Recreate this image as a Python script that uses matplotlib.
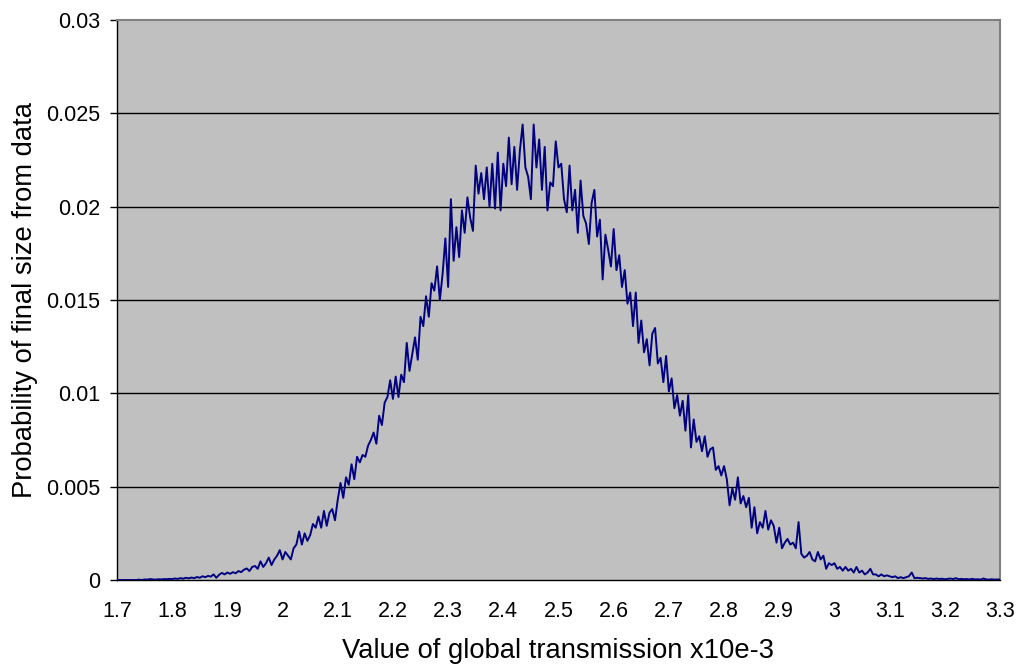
import numpy as np
import matplotlib
matplotlib.use("Agg")
import matplotlib.pyplot as plt

plt.rcParams['font.family'] = ['Liberation Sans', 'DejaVu Sans']

# probability of final size, sampled every 0.005 from 1.7 to 3.3
prob = [
    0, 0, 0, 0, 0, 0, 0, 0, 0.00002, 0,
    0.00003, 0.00002, 0.00005, 0.00003, 0.00002, 0.00004, 0.00003, 0.00005, 0.00004, 0.00006,
    0.00005, 0.00008, 0.00006, 0.0001, 0.00007, 0.00012, 0.00009, 0.00013, 0.0001, 0.00016,
    0.00012, 0.0002, 0.00015, 0.00022, 0.00018, 0.0003, 0.00012, 0.00028, 0.00038, 0.0003,
    0.0004, 0.00033, 0.00042, 0.00036, 0.00048, 0.00042, 0.00055, 0.00062, 0.00048, 0.0007,
    0.00075, 0.0006, 0.001, 0.0007, 0.0009, 0.0012, 0.0008, 0.0011, 0.0013, 0.0016,
    0.0011, 0.0015, 0.0013, 0.0011, 0.0017, 0.0019, 0.0026, 0.0019, 0.0025, 0.0021,
    0.0024, 0.003, 0.0028, 0.0034, 0.0028, 0.0037, 0.0029, 0.0036, 0.0038, 0.0032,
    0.0043, 0.0052, 0.0044, 0.0055, 0.0051, 0.0062, 0.0054, 0.0066, 0.0063, 0.0067,
    0.0066, 0.0072, 0.0075, 0.0079, 0.0073, 0.0088, 0.0083, 0.0095, 0.0098, 0.0107,
    0.0097, 0.0109, 0.0098, 0.011, 0.0106, 0.0127, 0.0112, 0.0121, 0.013, 0.0118,
    0.0141, 0.0136, 0.0152, 0.0141, 0.0159, 0.0155, 0.0168, 0.015, 0.0164, 0.0183,
    0.0157, 0.0204, 0.0171, 0.0189, 0.0173, 0.0198, 0.0186, 0.0205, 0.0194, 0.0187,
    0.0222, 0.0207, 0.0218, 0.0204, 0.0221, 0.02, 0.0223, 0.0199, 0.0229, 0.0198,
    0.0223, 0.0211, 0.0237, 0.0212, 0.0232, 0.0209, 0.023, 0.0244, 0.0221, 0.0216,
    0.0204, 0.0244, 0.0221, 0.0236, 0.0209, 0.0232, 0.0198, 0.0213, 0.0211, 0.0235,
    0.0221, 0.0223, 0.0204, 0.0197, 0.0222, 0.0198, 0.0209, 0.0186, 0.0214, 0.0195,
    0.0191, 0.018, 0.0202, 0.0209, 0.0184, 0.0193, 0.0161, 0.0185, 0.0177, 0.0168,
    0.0188, 0.0166, 0.0174, 0.0157, 0.0166, 0.0148, 0.0154, 0.0136, 0.0154, 0.0127,
    0.0139, 0.0122, 0.0129, 0.0115, 0.0132, 0.0135, 0.0116, 0.0119, 0.0106, 0.012,
    0.0101, 0.0108, 0.0092, 0.0099, 0.0088, 0.0096, 0.008, 0.0099, 0.0071, 0.0086,
    0.0074, 0.0077, 0.0069, 0.0077, 0.0066, 0.007, 0.0071, 0.0059, 0.0061, 0.0056,
    0.0061, 0.0054, 0.004, 0.0049, 0.0043, 0.0055, 0.0041, 0.0045, 0.0039, 0.0044,
    0.0028, 0.0039, 0.0025, 0.0031, 0.0028, 0.0037, 0.0027, 0.0032, 0.0029, 0.002,
    0.0028, 0.0017, 0.002, 0.0022, 0.0019, 0.002, 0.0017, 0.0031, 0.0014, 0.0012,
    0.0013, 0.0015, 0.0011, 0.001, 0.0015, 0.0011, 0.0013, 0.0006, 0.0009, 0.0008,
    0.0009, 0.0006, 0.0007, 0.0005, 0.0007, 0.0005, 0.0006, 0.0004, 0.0007, 0.0004,
    0.0005, 0.0003, 0.0004, 0.0006, 0.0003, 0.0003, 0.0002, 0.0003, 0.0002, 0.00025,
    0.0002, 0.00015, 0.0002, 0.0001, 0.00015, 0.0001, 0.00015, 0.0002, 0.0004, 0.0001,
    0.00012, 0.0001, 0.00008, 0.0001, 0.00006, 0.00008, 0.00005, 0.00008, 0.00005, 0.00007,
    0.00004, 0.00006, 0.00008, 0.00005, 0.0001, 0.00004, 0.00006, 0.00004, 0.00005, 0.00003,
    0.00006, 0.00003, 0.00004, 0.00002, 0.00008, 0.00003, 0.00002, 0.00004, 0.00002, 0.00003, 0.00002,
]
x_start, x_end = 1.7, 3.3
beta = np.linspace(x_start, x_end, len(prob))

xticks = [1.7, 1.8, 1.9, 2.0, 2.1, 2.2, 2.3, 2.4, 2.5, 2.6, 2.7, 2.8, 2.9, 3.0, 3.1, 3.2, 3.3]
xlabels = ['1.7', '1.8', '1.9', '2', '2.1', '2.2', '2.3', '2.4', '2.5', '2.6', '2.7', '2.8',
           '2.9', '3', '3.1', '3.2', '3.3']
yticks = [0, 0.005, 0.01, 0.015, 0.02, 0.025, 0.03]
ylabels = ['0', '0.005', '0.01', '0.015', '0.02', '0.025', '0.03']

fig = plt.figure(figsize=(10.22, 6.68), dpi=100)
ax = fig.add_axes([117 / 1022, 88 / 668, 883 / 1022, 560 / 668])
ax.set_facecolor('#C0C0C0')

for yv in yticks[1:-1]:
    ax.axhline(yv, color='black', lw=1.0, zorder=1)

ax.plot(beta, prob, color='#000080', lw=1.4, zorder=3)

ax.set_xlim(x_start, x_end)
ax.set_ylim(0, 0.03)
ax.set_xticks(xticks)
ax.set_xticklabels(xlabels)
ax.set_yticks(yticks)
ax.set_yticklabels(ylabels)
ax.tick_params(axis='x', length=0, pad=15, labelsize=15.5)
ax.tick_params(axis='y', length=5, width=1, direction='out', pad=7, labelsize=15.5)

for side in ['top', 'right']:
    ax.spines[side].set_color('#808080')
    ax.spines[side].set_linewidth(1.5)
for side in ['left', 'bottom']:
    ax.spines[side].set_color('black')
    ax.spines[side].set_linewidth(1.0)

ax.set_xlabel('Value of global transmission x10e-3', fontsize=19.7, labelpad=12)
ax.set_ylabel('Probability of final size from data', fontsize=19.7, labelpad=6)

fig.savefig('out.png', dpi=100)
